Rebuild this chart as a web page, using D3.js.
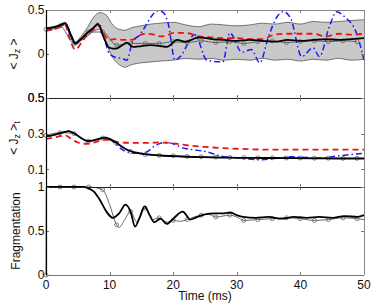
<!DOCTYPE html>
<html lang="en">
<head>
<meta charset="utf-8">
<title>Jz and fragmentation vs time</title>
<script src="https://cdn.jsdelivr.net/npm/d3@7"></script>
<style>
  body { margin: 0; background: #fff; }
  text { font-family: "Liberation Sans", Arial, sans-serif; }
</style>
</head>
<body>
<script>
// ---------- data ----------

// circle marker times (ms)
var markT = [0, 2.2, 4.4, 6.7, 8.9, 11.1, 13.3, 15.6, 17.8, 20, 22.2, 24.4, 26.7, 28.9, 31.1, 33.3, 35.6, 37.8, 40, 42.2, 44.4, 46.7, 48.9];

// panel 1: <Jz>
var bandT = [0, 1, 2, 3, 4, 4.6, 5.5, 6.5, 7.5, 8.5, 9.5, 10.5, 11.5, 12.4, 13.5, 15, 16.5, 18, 20, 22, 24, 26, 28, 30, 32, 34, 36, 38, 40, 42, 44, 46, 48, 50];
var bandHi = [0.3, 0.31, 0.33, 0.36, 0.22, 0.14, 0.2, 0.3, 0.42, 0.47, 0.44, 0.33, 0.28, 0.27, 0.3, 0.32, 0.34, 0.35, 0.36, 0.33, 0.31, 0.34, 0.33, 0.32, 0.33, 0.35, 0.34, 0.36, 0.34, 0.37, 0.36, 0.37, 0.38, 0.39];
var bandLo = [0.27, 0.28, 0.3, 0.33, 0.17, 0.1, 0.15, 0.2, 0.26, 0.28, 0.12, -0.04, -0.12, -0.15, -0.12, -0.1, -0.09, -0.08, -0.07, -0.05, -0.06, -0.05, -0.07, -0.06, -0.07, -0.05, -0.07, -0.06, -0.08, -0.06, -0.07, -0.05, -0.07, -0.06];

var jzBlackT = [0, 1, 2, 3, 4, 4.6, 5.5, 6.5, 7.5, 8.2, 9, 10, 11, 12, 12.7, 13.7, 15, 16.4, 18, 19, 20.6, 22, 24, 26, 28, 30, 32, 34, 36, 38, 40, 42, 44, 46, 48, 50];
var jzBlack = [0.29, 0.3, 0.32, 0.35, 0.2, 0.12, 0.17, 0.24, 0.3, 0.34, 0.2, 0.07, 0.06, 0.1, 0.13, 0.08, 0.09, 0.1, 0.09, 0.08, 0.16, 0.14, 0.19, 0.17, 0.16, 0.15, 0.16, 0.15, 0.14, 0.16, 0.15, 0.16, 0.17, 0.16, 0.17, 0.18];
var jzGray = [0.28, 0.32, 0.12, 0.25, 0.25, 0.1, 0.12, 0.12, 0.12, 0.14, 0.13, 0.15, 0.13, 0.14, 0.12, 0.14, 0.15, 0.13, 0.14, 0.15, 0.14, 0.15, 0.14];

var jzRedT = [0, 1, 2, 3, 3.6, 4.6, 5.5, 6.5, 7.5, 8.3, 9, 10, 11, 12, 13, 14, 15, 16, 17, 18, 19, 20, 22, 24, 26, 28, 30, 32, 34, 36, 38, 40, 42, 44, 46, 48, 50];
var jzRed = [0.26, 0.28, 0.3, 0.33, 0.2, 0.05, 0.12, 0.22, 0.28, 0.32, 0.24, 0.16, 0.17, 0.16, 0.16, 0.17, 0.22, 0.23, 0.22, 0.2, 0.21, 0.24, 0.24, 0.2, 0.19, 0.18, 0.18, 0.17, 0.17, 0.22, 0.23, 0.23, 0.23, 0.2, 0.23, 0.22, 0.23];

var jzBlueT = [0, 1, 2, 3, 4, 4.6, 5.5, 6.5, 7.5, 8.3, 9, 10, 11, 12, 12.7, 13.7, 14.5, 15.5, 16.5, 17.5, 18.3, 19.2, 20.3, 21.1, 23.4, 25.3, 27.8, 28.9, 30.8, 32.3, 33.6, 35, 36.3, 37.3, 38.5, 40.2, 42, 43, 44.5, 45.7, 47, 48.8, 50];
var jzBlue = [0.27, 0.28, 0.3, 0.34, 0.18, 0.12, 0.16, 0.24, 0.3, 0.35, 0.22, 0.0, -0.04, -0.05, -0.07, 0.16, 0.2, 0.3, 0.42, 0.49, 0.48, 0.35, -0.07, -0.03, 0.22, -0.07, -0.09, 0.24, 0.02, 0.05, -0.1, 0.2, 0.42, 0.48, 0.4, -0.03, 0.07, -0.03, 0.3, 0.48, 0.42, 0.24, -0.07];

// panel 2: <Jz>_t
var jtBlackT = [0, 1, 2, 3, 3.5, 4.5, 5.5, 6.6, 7.5, 8.5, 9.2, 10, 11, 12, 13, 14, 15, 16, 18, 20, 22, 24, 26, 28, 30, 34, 38, 42, 46, 50];
var jtBlack = [0.286, 0.29, 0.3, 0.31, 0.314, 0.3, 0.275, 0.258, 0.262, 0.272, 0.277, 0.27, 0.25, 0.225, 0.205, 0.195, 0.188, 0.183, 0.177, 0.173, 0.17, 0.168, 0.166, 0.165, 0.164, 0.163, 0.162, 0.161, 0.16, 0.16];
var jtGray = [0.29, 0.305, 0.3, 0.258, 0.275, 0.245, 0.2, 0.182, 0.178, 0.176, 0.172, 0.17, 0.168, 0.166, 0.165, 0.164, 0.164, 0.163, 0.163, 0.162, 0.162, 0.161, 0.161];

var jtRedT = [0, 1.5, 3, 4, 5, 6, 7, 8, 9, 10, 11, 12, 14, 16, 18, 20, 22, 25, 30, 35, 40, 45, 50];
var jtRed = [0.27, 0.28, 0.29, 0.27, 0.25, 0.243, 0.245, 0.255, 0.265, 0.265, 0.255, 0.25, 0.248, 0.248, 0.25, 0.245, 0.235, 0.225, 0.215, 0.21, 0.21, 0.21, 0.21];

var jtBlueT = [0, 1, 2, 3, 3.5, 4.5, 5.5, 6.6, 7.5, 8.5, 9.2, 10, 11, 12, 13, 14, 15, 16, 17, 18, 18.7, 19.5, 20.5, 21.5, 23, 25, 28, 30, 33.6, 36, 38.4, 40, 43, 46, 50];
var jtBlue = [0.286, 0.29, 0.3, 0.31, 0.314, 0.3, 0.275, 0.258, 0.262, 0.272, 0.28, 0.27, 0.24, 0.21, 0.195, 0.19, 0.19, 0.2, 0.23, 0.245, 0.252, 0.248, 0.235, 0.22, 0.21, 0.2, 0.17, 0.165, 0.153, 0.16, 0.17, 0.168, 0.163, 0.175, 0.19];

// panel 3: fragmentation
var frBlackT = [0, 2, 4, 6, 6.5, 7.5, 8.5, 9.5, 10.5, 11.5, 12.5, 13.3, 14, 14.7, 15.5, 16.3, 17, 18, 19, 20, 21.5, 22.7, 23.5, 25, 26.5, 28, 29, 30, 31, 33, 35, 37, 39, 41, 43, 45, 47, 49, 50];
var frBlack = [1, 1, 1, 1, 0.99, 0.95, 0.85, 0.72, 0.65, 0.7, 0.8, 0.72, 0.55, 0.65, 0.78, 0.68, 0.6, 0.64, 0.58, 0.64, 0.72, 0.63, 0.65, 0.69, 0.7, 0.7, 0.71, 0.68, 0.66, 0.65, 0.66, 0.64, 0.66, 0.65, 0.66, 0.65, 0.67, 0.66, 0.68];
var frGrayT = [0, 0.05, 2.2, 4.4, 6.7, 8.9, 10, 11.1, 11.5, 12.3, 13.3, 14.3, 15.6, 16.8, 17.8, 19, 20, 21, 22.2, 23.3, 24.4, 25.5, 26.7, 28.9, 30, 31.1, 33.3, 35.6, 37.8, 40, 42.2, 44.4, 46.7, 48.9, 50];
var frGray = [0, 1, 1, 1, 1, 0.97, 0.8, 0.57, 0.54, 0.62, 0.72, 0.6, 0.76, 0.63, 0.65, 0.6, 0.62, 0.61, 0.63, 0.66, 0.68, 0.69, 0.66, 0.68, 0.66, 0.62, 0.63, 0.64, 0.65, 0.64, 0.62, 0.63, 0.65, 0.64, 0.63];

var xTicks = [0, 10, 20, 30, 40, 50];

// ---------- layout ----------
var w = 374, h = 307;
var left = 46, right = 364;
var fs = "12px";

var svg = d3.select("body").append("svg")
    .attr("width", w)
    .attr("height", h);

var xScale = d3.scaleLinear().domain([0, 50]).range([left, right]);

var panels = [
  { top: 10, bottom: 98, domain: [-0.5, 0.5], ticks: [0.5, 0, -0.5], labels: ["0.5", "0", "0.5"] },
  { top: 98, bottom: 187, domain: [0, 0.5], ticks: [0.5, 0.3, 0.1], labels: ["0.5", "0.3", "0.1"] },
  { top: 187, bottom: 275, domain: [0, 1], ticks: [1, 0.5, 0], labels: ["1", "0.5", "0"] }
];
panels.forEach(function(p) {
  p.y = d3.scaleLinear().domain(p.domain).range([p.bottom, p.top]);
});

function zip(ts, vs) {
  return ts.map(function(t, i) { return [t, vs[i]]; });
}

function drawLine(p, data, color, width, dash) {
  var line = d3.line()
      .x(function(d) { return xScale(d[0]); })
      .y(function(d) { return p.y(d[1]); })
      .curve(d3.curveMonotoneX);
  svg.append("path")
      .datum(data)
      .attr("d", line)
      .attr("fill", "none")
      .attr("stroke", color)
      .attr("stroke-width", width)
      .attr("stroke-dasharray", dash || null)
      .attr("stroke-linejoin", "round");
}

function drawMarks(p, data) {
  svg.append("g").selectAll("circle")
      .data(data)
      .enter()
      .append("circle")
      .attr("cx", function(d) { return xScale(d[0]); })
      .attr("cy", function(d) { return p.y(d[1]); })
      .attr("r", 2)
      .attr("fill", "none")
      .attr("stroke", "#666")
      .attr("stroke-width", 0.8);
}

var redDash = "6,4";
var blueDash = "6,3,1.5,3";

// ---------- panel 1 ----------
var p1 = panels[0];
var bandData = bandT.map(function(t, i) { return [t, bandLo[i], bandHi[i]]; });
svg.append("path")
    .datum(bandData)
    .attr("d", d3.area()
        .x(function(d) { return xScale(d[0]); })
        .y0(function(d) { return p1.y(d[1]); })
        .y1(function(d) { return p1.y(d[2]); })
        .curve(d3.curveMonotoneX))
    .attr("fill", "#c9c9c9");
drawLine(p1, zip(bandT, bandHi), "#555", 0.8);
drawLine(p1, zip(bandT, bandLo), "#555", 0.8);
drawLine(p1, zip(jzBlueT, jzBlue), "#1a1aff", 1.5, blueDash);
drawLine(p1, zip(jzRedT, jzRed), "#ee1111", 1.8, redDash);
drawLine(p1, zip(markT, jzGray), "#555", 0.9);
drawMarks(p1, zip(markT, jzGray));
drawLine(p1, zip(jzBlackT, jzBlack), "#000", 1.8);

// ---------- panel 2 ----------
var p2 = panels[1];
drawLine(p2, zip(jtBlueT, jtBlue), "#1a1aff", 1.5, blueDash);
drawLine(p2, zip(jtRedT, jtRed), "#ee1111", 1.8, redDash);
drawLine(p2, zip(markT, jtGray), "#555", 0.9);
drawMarks(p2, zip(markT, jtGray));
drawLine(p2, zip(jtBlackT, jtBlack), "#000", 1.8);

// ---------- panel 3 ----------
var p3 = panels[2];
drawLine(p3, zip(frGrayT, frGray), "#555", 0.9);
drawMarks(p3, zip(frGrayT, frGray).filter(function(d) {
  return markT.indexOf(d[0]) >= 0;
}));
drawLine(p3, zip(frBlackT, frBlack), "#000", 1.8);

// ---------- frames, ticks, labels ----------
panels.forEach(function(p, k) {
  // frame: top and right in grey, left and bottom in black
  svg.append("line").attr("x1", left).attr("x2", right).attr("y1", p.top + 0.5).attr("y2", p.top + 0.5)
      .attr("stroke", k == 0 ? "#888" : "#222").attr("stroke-width", 1);
  svg.append("line").attr("x1", right + 0.5).attr("x2", right + 0.5).attr("y1", p.top).attr("y2", p.bottom)
      .attr("stroke", "#888").attr("stroke-width", 1);
  svg.append("line").attr("x1", left).attr("x2", right).attr("y1", p.bottom + 0.5).attr("y2", p.bottom + 0.5)
      .attr("stroke", k == 2 ? "#777" : "#222").attr("stroke-width", 1);

  // x ticks, inward from top and bottom
  xTicks.slice(1, 5).forEach(function(t) {
    var x = Math.round(xScale(t)) + 0.5;
    svg.append("line").attr("x1", x).attr("x2", x).attr("y1", p.top).attr("y2", p.top + 3)
        .attr("stroke", "#777").attr("stroke-width", 1);
    svg.append("line").attr("x1", x).attr("x2", x).attr("y1", p.bottom - 3).attr("y2", p.bottom)
        .attr("stroke", "#777").attr("stroke-width", 1);
  });

  // y ticks and labels
  p.ticks.forEach(function(v, i) {
    var y = Math.round(p.y(v)) + 0.5;
    svg.append("line").attr("x1", left).attr("x2", left + 3).attr("y1", y).attr("y2", y)
        .attr("stroke", "#777").attr("stroke-width", 1);
    svg.append("line").attr("x1", right - 3).attr("x2", right).attr("y1", y).attr("y2", y)
        .attr("stroke", "#777").attr("stroke-width", 1);
    svg.append("text")
        .attr("x", left - 1.5)
        .attr("y", p.y(v))
        .attr("dy", "0.36em")
        .attr("text-anchor", "end")
        .attr("font-size", fs)
        .attr("fill", "#111")
        .text(p.labels[i]);
  });
});

// left axis line
svg.append("line").attr("x1", left + 0.5).attr("x2", left + 0.5).attr("y1", 10).attr("y2", 275)
    .attr("stroke", "#000").attr("stroke-width", 1.2);

// x tick labels
svg.selectAll("text.xlab")
    .data(xTicks)
    .enter()
    .append("text")
    .attr("class", "xlab")
    .attr("x", function(d) { return xScale(d); })
    .attr("y", 289)
    .attr("text-anchor", "middle")
    .attr("font-size", fs)
    .attr("fill", "#111")
    .text(function(d) { return d; });

svg.append("text")
    .attr("x", (left + right) / 2)
    .attr("y", 300)
    .attr("text-anchor", "middle")
    .attr("font-size", fs)
    .attr("fill", "#111")
    .text("Time (ms)");

// y axis titles
function yTitle(cy, withT) {
  var t = svg.append("text")
      .attr("transform", "translate(18," + cy + ") rotate(-90)")
      .attr("text-anchor", "middle")
      .attr("font-size", fs)
      .attr("fill", "#111");
  t.append("tspan").text("< J");
  t.append("tspan").attr("baseline-shift", "-25%").attr("font-size", "9px").text("z");
  t.append("tspan").text(" >");
  if (withT) {
    t.append("tspan").attr("baseline-shift", "-25%").attr("font-size", "9px").text("t");
  }
}
yTitle(54, false);
yTitle(138, true);

svg.append("text")
    .attr("transform", "translate(20,231) rotate(-90)")
    .attr("text-anchor", "middle")
    .attr("font-size", fs)
    .attr("fill", "#111")
    .text("Fragmentation");
</script>
</body>
</html>
